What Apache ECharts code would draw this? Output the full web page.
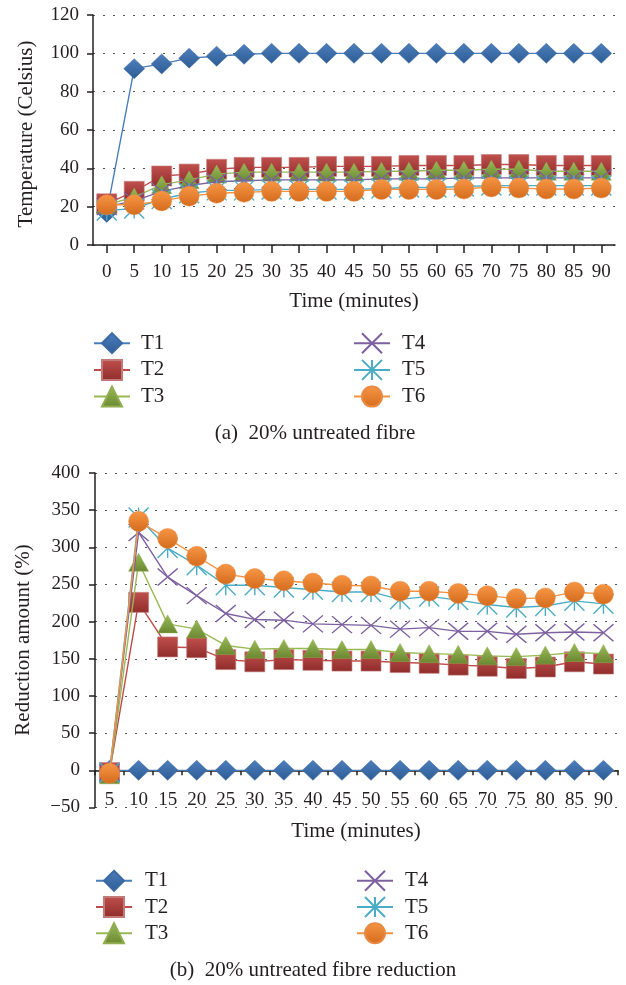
<!DOCTYPE html>
<html>
<head>
<meta charset="utf-8">
<script src="https://cdn.jsdelivr.net/npm/echarts@6/dist/echarts.min.js"></script>
<style>
html,body{margin:0;padding:0;background:#fff;}
#c{width:626px;height:985px;}
</style>
</head>
<body>
<div id="c"></div>
<script>
// ---- Data: (a) temperature ----
var timeCats = ['0','5','10','15','20','25','30','35','40','45','50','55','60','65','70','75','80','85','90'];
var tempT1 = [17, 92, 94.5, 97.5, 98.5, 99.5, 100, 100, 100, 100, 100, 100, 100, 100, 100, 100, 100, 100, 100];
var tempT2 = [21.5, 28, 36, 37, 39.5, 40.5, 40.5, 40.5, 41, 41, 41, 41.5, 41.5, 41.5, 42, 42, 41.5, 41.5, 41.5];
var tempT3 = [21, 25, 31.5, 34, 37, 38, 38, 38, 38, 38, 38.5, 38.5, 39, 39, 39.5, 39.5, 38.5, 38.5, 38.5];
var tempT4 = [20, 23, 28, 31, 33, 33.5, 34, 34, 34, 34, 34.5, 34.5, 34.5, 35, 35, 35, 35, 35, 35];
var tempT5 = [18, 19, 24, 27, 28.5, 28.5, 29, 29, 29, 29, 29.5, 30, 30, 30.5, 31, 31, 31, 31, 31];
var tempT6 = [21, 21, 23, 25.5, 27, 27.5, 28, 28, 28, 28, 29, 29, 29, 29.2, 30.3, 29.7, 29.2, 29.2, 29.7];

// ---- Data: (b) reduction ----
var redCats = ['5','10','15','20','25','30','35','40','45','50','55','60','65','70','75','80','85','90'];
var redT1 = [0, 0, 0, 0, 0, 0, 0, 0, 0, 0, 0, 0, 0, 0, 0, 0, 0, 0];
var redT2 = [-3, 226, 166, 165, 149, 146, 149, 148, 147, 147, 145, 144, 141.5, 140, 137, 139, 146, 143];
var redT3 = [-6, 280, 197, 190, 168, 163, 164, 164, 162.5, 162.5, 158.5, 157, 156, 154, 153, 155, 158.5, 157];
var redT4 = [-3, 320, 260, 235, 211, 203, 202, 197, 196, 195, 190, 192, 187, 187, 183, 185, 186, 185];
var redT5 = [-3, 340, 299, 276, 249, 249, 246, 243, 240, 240, 230, 234, 229, 223, 219, 221, 228, 224];
var redT6 = [-4, 335, 312, 288, 264, 258, 255, 252, 249, 248, 241, 241, 238, 235, 231, 232, 240, 237];

var seriesNames = ['T1','T2','T3','T4','T5','T6'];

var FONT = '"Liberation Serif", "DejaVu Serif", serif';
var INK = '#231f20';

function grad(a, b) {
  return {type:'linear', x:0, y:0, x2:0, y2:1, colorStops:[{offset:0, color:a},{offset:1, color:b}]};
}
var styles = [
  {symbol:'diamond', size:[21,20], item:{color:grad('#4d7fbd','#2d5c94'), borderColor:'#3a69a3', borderWidth:0.5}, line:'#4a7ebb'},
  {symbol:'rect', size:[20,20], item:{color:grad('#c0504d','#8f2d2b'), borderColor:'#c27a78', borderWidth:0.6}, line:'#be4b48'},
  {symbol:'triangle', size:[20,18], item:{color:grad('#9bbb59','#6a8731'), borderColor:'#8fae4f', borderWidth:0.5}, line:'#98b954'},
  {symbol:'path://M0,0L20,17M20,0L0,17', size:[20,17], item:{color:'rgba(0,0,0,0)', borderColor:'#7d60a0', borderWidth:1.4}, line:'#7d60a0'},
  {symbol:'path://M0,0L20,20M20,0L0,20M10,0L10,20', size:[20,20], item:{color:'rgba(0,0,0,0)', borderColor:'#4bacc6', borderWidth:1.4}, line:'#4bacc6'},
  {symbol:'circle', size:[20,20], item:{color:grad('#f79646','#d46c1c'), borderColor:'#e88a44', borderWidth:0.5}, line:'#f69240'}
];

var tempData = [tempT1, tempT2, tempT3, tempT4, tempT5, tempT6];
var redData = [redT1, redT2, redT3, redT4, redT5, redT6];

var series = [];
function addSeries(dataArr, gi) {
  for (var i = 0; i < 6; i++) {
    var s = styles[i];
    series.push({
      type:'line', name:seriesNames[i], xAxisIndex:gi, yAxisIndex:gi,
      data:dataArr[i], symbol:s.symbol, symbolSize:s.size,
      showSymbol:true, showAllSymbol:true,
      itemStyle:s.item, lineStyle:{color:s.line, width:1.4},
      emphasis:{disabled:true}, animation:false, z:2+i
    });
  }
}
addSeries(tempData, 0);
addSeries(redData, 1);

var axisLineStyle = {color:INK, width:1.5};
var labelStyle = {fontFamily:FONT, fontSize:19, color:INK};
var splitStyle = {show:true, lineStyle:{color:'#555', width:1, type:[2,8]}};

function legendBlock(names, left, top, gap, pad) {
  return {
    data:names, orient:'vertical', left:left, top:top, padding:0,
    itemWidth:36, itemHeight:25, itemGap:gap, selectedMode:false,
    textStyle:{fontFamily:FONT, fontSize:21, color:INK, padding:[0,0,0,pad]}
  };
}

function gText(txt, x, y, rot) {
  return {type:'text', x:x, y:y, rotation:rot || 0,
    style:{text:txt, fontFamily:FONT, fontSize:21, fill:INK, align:'center', verticalAlign:'middle'}};
}

var option = {
  backgroundColor:'#fff',
  animation:false,
  grid:[
    {left:93, top:15, width:522, height:230, containLabel:false},
    {left:95, top:473, width:523, height:334.5, containLabel:false}
  ],
  xAxis:[
    {gridIndex:0, type:'category', data:timeCats, boundaryGap:true,
     axisLine:{lineStyle:axisLineStyle},
     axisTick:{show:true, alignWithLabel:true, length:8, lineStyle:axisLineStyle},
     axisLabel:Object.assign({margin:18, interval:0}, labelStyle),
     splitLine:{show:false}},
    {gridIndex:1, type:'category', data:redCats, boundaryGap:true,
     axisLine:{onZero:true, lineStyle:axisLineStyle},
     axisTick:{show:true, alignWithLabel:false, length:5, interval:0, lineStyle:axisLineStyle},
     axisLabel:Object.assign({margin:-17, interval:0}, labelStyle),
     splitLine:{show:false}}
  ],
  yAxis:[
    {gridIndex:0, type:'value', min:0, max:120, interval:20,
     axisLine:{show:true, lineStyle:axisLineStyle},
     axisTick:{show:true, length:6, lineStyle:axisLineStyle},
     axisLabel:Object.assign({margin:14}, labelStyle),
     splitLine:splitStyle},
    {gridIndex:1, type:'value', min:-50, max:400, interval:50,
     axisLine:{show:true, onZero:false, lineStyle:axisLineStyle},
     axisTick:{show:true, length:6, lineStyle:axisLineStyle},
     axisLabel:Object.assign({margin:15, formatter:function(v){return String(v).replace('-', '\u2212');}}, labelStyle),
     splitLine:splitStyle}
  ],
  legend:[
    legendBlock(['T1','T2','T3'], 93, 332.2, 4.7, 6),
    legendBlock(['T4','T5','T6'], 353, 332.2, 4.7, 7),
    legendBlock(['T1','T2','T3'], 95, 869.8, 4.2, 8),
    legendBlock(['T4','T5','T6'], 356, 869.8, 4.2, 7)
  ],
  graphic:[
    gText('Temperature (Celsius)', 26, 134, Math.PI/2),
    gText('Time (minutes)', 354, 301, 0),
    gText('(a)  20% untreated fibre', 315, 433, 0),
    gText('Reduction amount (%)', 23, 640, Math.PI/2),
    gText('Time (minutes)', 356, 831, 0),
    gText('(b)  20% untreated fibre reduction', 313, 970, 0)
  ],
  series:series
};

var chart = echarts.init(document.getElementById('c'), null, {renderer:'canvas', width:626, height:985});
chart.setOption(option);
</script>
</body>
</html>
